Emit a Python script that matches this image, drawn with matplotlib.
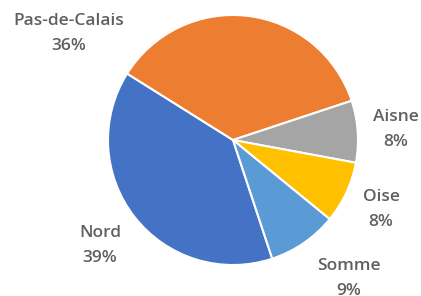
import matplotlib
matplotlib.use("Agg")
import matplotlib.pyplot as plt

# Data
departements = ["Nord", "Pas-de-Calais", "Aisne", "Oise", "Somme"]
parts = [39, 36, 8, 8, 9]
colors = ["#4472C4", "#ED7D31", "#A5A5A5", "#FFC000", "#5B9BD5"]

# label centres in pixels (name line), percent line goes below
label_px = [(100, 233), (69, 21), (396, 117), (381, 197), (349, 266)]

W, H = 421, 296
cx, cy, r = 233, 140, 125

fig = plt.figure(figsize=(W / 100, H / 100), dpi=100)
ax = fig.add_axes([0, 0, 1, 1])
ax.pie(parts, colors=colors, startangle=90 - 161.7, counterclock=False,
       wedgeprops={"edgecolor": "white", "linewidth": 1.5})
ax.set_xlim(-cx / r, (W - cx) / r)
ax.set_ylim((cy - H) / r, cy / r)
ax.set_aspect("equal")
ax.axis("off")

total = sum(parts)
for name, val, (px, py) in zip(departements, parts, label_px):
    x = (px - cx) / r
    y = (cy - py) / r
    ax.text(x, y, name, ha="center", va="center", fontsize=12.5,
            family="Open Sans", fontweight="semibold", color="#606060")
    ax.text(x, y - 25 / r, f"{round(val / total * 100)}%", ha="center", va="center",
            fontsize=12.5, family="Open Sans", fontweight="semibold", color="#606060")

fig.savefig("out.png", dpi=100)
